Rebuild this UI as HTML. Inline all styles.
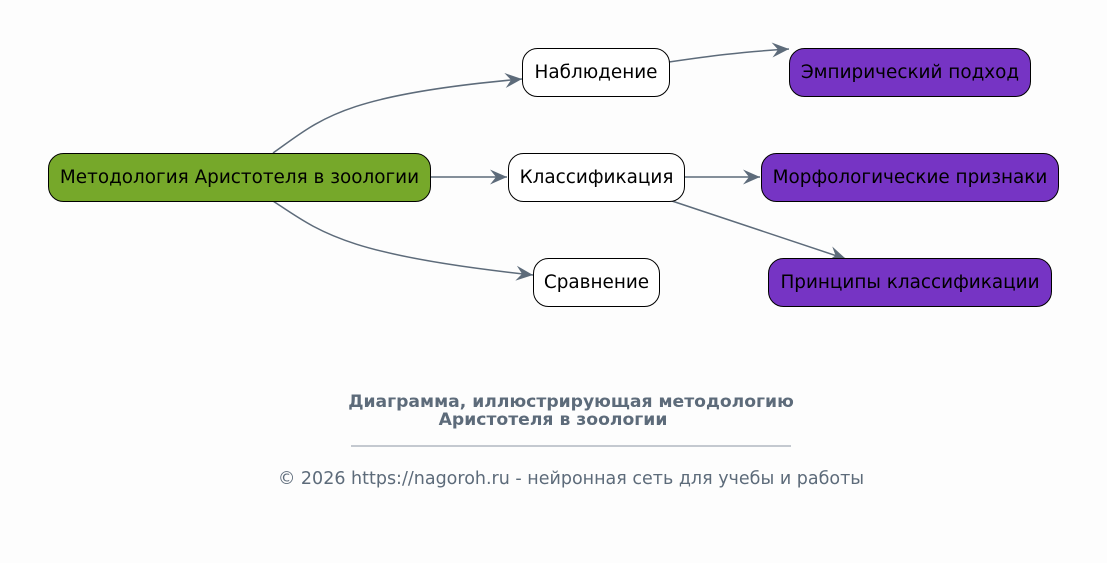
<!DOCTYPE html>
<html><head><meta charset="utf-8"><style>
html,body{margin:0;padding:0;background:#fdfdfd;}
svg{display:block;}
text{font-family:"DejaVu Sans","Liberation Sans",sans-serif;}
</style></head><body>
<svg width="1107" height="563" viewBox="0 0 1107 563" xmlns="http://www.w3.org/2000/svg">
<defs>
<marker id="a" viewBox="-17 -8 18 16" refX="0" refY="0" markerWidth="18" markerHeight="16" markerUnits="userSpaceOnUse" orient="auto">
<path d="M0,0 L-17,-7.5 L-11,0 L-17,7.5 Z" fill="#5d6b7a"/>
</marker>
</defs>
<rect width="1107" height="563" fill="#fdfdfd"/>
<g fill="none" stroke="#5d6b7a" stroke-width="1.5" marker-end="url(#a)">
<path d="M273,153 C320,120 340,95 522,79"/>
<path d="M273,201 C320,232 345,255 533,275"/>
<path d="M430,177 L507,177"/>
<path d="M669,62 C710,56 740,52 789,49"/>
<path d="M684,177 L760,177"/>
<path d="M672,201 L846,259"/>
</g>
<g stroke="#000" stroke-width="1">
<rect x="48.5" y="153.5" width="382" height="48" rx="15" fill="#76a82a"/>
<rect x="522.5" y="48.5" width="147" height="48" rx="15" fill="#fff"/>
<rect x="508.5" y="153.5" width="176" height="48" rx="15" fill="#fff"/>
<rect x="533.5" y="258.5" width="126" height="48" rx="15" fill="#fff"/>
<rect x="789.5" y="48.5" width="241" height="48" rx="15" fill="#7634c4"/>
<rect x="761.5" y="153.5" width="297" height="48" rx="15" fill="#7634c4"/>
<rect x="768.5" y="258.5" width="283" height="48" rx="15" fill="#7634c4"/>
</g>
<g font-size="18.4" fill="#000" text-anchor="middle">
<text x="239.5" y="183">Методология Аристотеля в зоологии</text>
<text x="596" y="78">Наблюдение</text>
<text x="596.5" y="183">Классификация</text>
<text x="596.5" y="288">Сравнение</text>
<text x="910" y="78">Эмпирический подход</text>
<text x="910" y="183">Морфологические признаки</text>
<text x="910" y="288">Принципы классификации</text>
</g>
<g fill="#5d6b7a" text-anchor="middle">
<text x="571" y="407" font-size="17.2" font-weight="bold">Диаграмма, иллюстрирующая методологию</text>
<text x="553" y="425" font-size="17.2" font-weight="bold">Аристотеля в зоологии</text>
<line x1="351" y1="446" x2="791" y2="446" stroke="#8a95a2" stroke-width="1"/>
<text x="571" y="484" font-size="17.5">© 2026 https://nagoroh.ru - нейронная сеть для учебы и работы</text>
</g>
</svg>
</body></html>
